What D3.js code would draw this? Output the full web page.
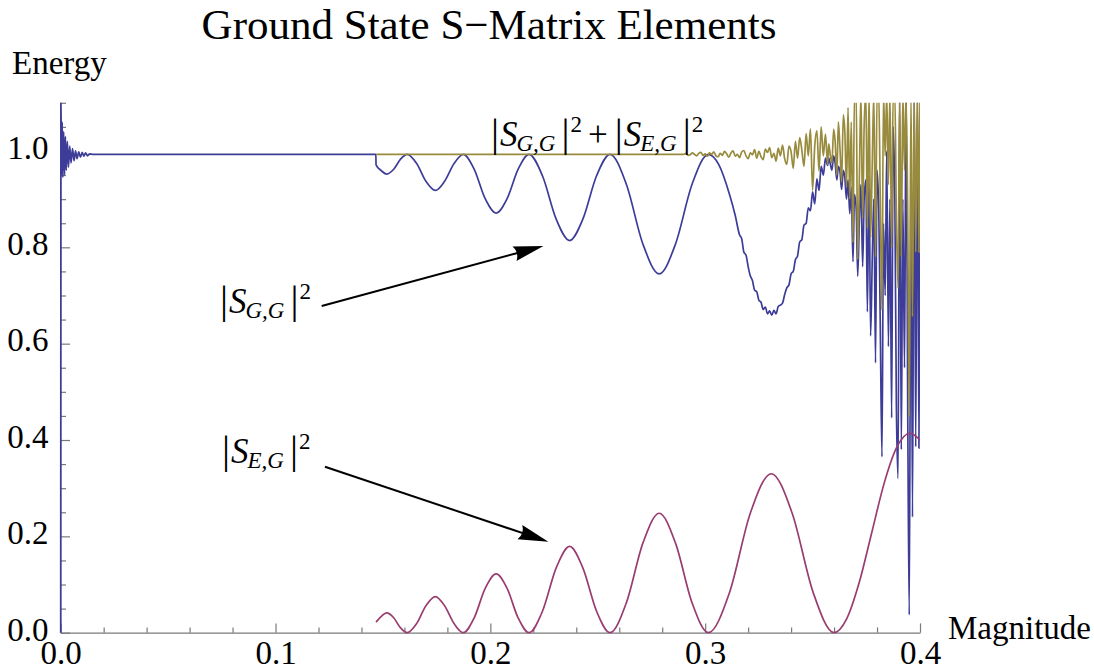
<!DOCTYPE html>
<html><head><meta charset="utf-8">
<script src="https://cdn.jsdelivr.net/npm/d3@7/dist/d3.min.js"></script>
<style>body{margin:0;background:#fff}svg{display:block}</style>
</head><body>
<svg id="chart" width="1094" height="671"></svg>
<script>
// ---------- data ----------
const chartTitle = "Ground State S\u2212Matrix Elements";
const xAxisLabel = "Magnitude";
const yAxisLabel = "Energy";
const xMajorTicks = [0, 0.1, 0.2, 0.3, 0.4];
const xTickLabels = ["0.0", "0.1", "0.2", "0.3", "0.4"];
const xMinorTicks = [0.02,0.04,0.06,0.08,0.12,0.14,0.16,0.18,0.22,0.24,0.26,0.28,0.32,0.34,0.36,0.38];
const yMajorTicks = [0, 0.2, 0.4, 0.6, 0.8, 1.0];
const yTickLabels = ["0.0", "0.2", "0.4", "0.6", "0.8", "1.0"];
const yMinorTicks = [0.05,0.1,0.15,0.25,0.3,0.35,0.45,0.5,0.55,0.65,0.7,0.75,0.85,0.9,0.95,1.05,1.1];

// |S_GG|^2  (blue)
const sggData = [
 [0,0],[0.0001,1.12],[0.0004,0.95],[0.0007,1.06],[0.0010,0.945],[0.0014,1.04],[0.0018,0.95],
 [0.0022,1.03],[0.0026,0.96],[0.0031,1.02],[0.0036,0.966],[0.0042,1.01],[0.0048,0.975],
 [0.0055,1.005],[0.0062,0.980],[0.0069,1.000],[0.0076,0.984],[0.0084,0.998],[0.0092,0.987],
 [0.0100,0.997],[0.0108,0.989],[0.0116,0.996],[0.0125,0.990],[0.0135,0.994],[0.0150,0.993],
 [0.1467,0.993],[0.1468,0.971],[0.1490,0.960],[0.1518,0.952],[0.1550,0.962],[0.1582,0.983],
 [0.1613,0.993],[0.1657,0.974],[0.1700,0.937],[0.1744,0.918],[0.1787,0.937],[0.1831,0.974],
 [0.1874,0.993],[0.1925,0.962],[0.1976,0.901],[0.2027,0.871],[0.2078,0.901],[0.2129,0.962],
 [0.2180,0.993],[0.2243,0.948],[0.2306,0.859],[0.2369,0.814],[0.2431,0.859],[0.2494,0.948],
 [0.2557,0.993],[0.2633,0.931],[0.2710,0.807],[0.2786,0.745],[0.2862,0.807],[0.2939,0.931],
 [0.3015,0.993],[0.3064,0.971],[0.3113,0.910],[0.3140,0.866],
 [0.316,0.826],[0.317,0.818],[0.318,0.790],[0.319,0.784],[0.320,0.760],[0.321,0.741],
 [0.322,0.731],[0.323,0.711],[0.324,0.708],[0.325,0.690],[0.326,0.686],[0.327,0.671],
 [0.328,0.676],[0.329,0.662],[0.330,0.668],[0.331,0.659],[0.332,0.669],[0.333,0.662],
 [0.334,0.677],[0.335,0.680],[0.336,0.684],[0.337,0.702],[0.338,0.716],[0.339,0.722],
 [0.340,0.745],[0.341,0.750],[0.342,0.774],[0.343,0.782],[0.344,0.811],[0.345,0.816],
 [0.346,0.846],[0.347,0.850],[0.348,0.882],[0.349,0.876],[0.350,0.915],[0.351,0.890],
 [0.352,0.942],[0.353,0.918],[0.354,0.968],[0.355,0.950],[0.356,0.985],[0.357,0.970],
 [0.3575,0.985],[0.3583,0.972],[0.3590,0.960],[0.3598,0.990],[0.3605,0.975],[0.3613,0.940],
 [0.3620,0.968],[0.3628,0.955],[0.3635,0.920],[0.3643,0.960],[0.3650,0.945],[0.3658,0.900],
 [0.3665,0.940],[0.3673,0.870],[0.3680,0.925],[0.3688,0.770],[0.3695,0.910],[0.3703,0.880],
 [0.3710,0.740],[0.3718,0.860],[0.3725,0.930],[0.3733,0.760],[0.3740,0.900],[0.3748,0.940],
 [0.3755,0.666],[0.3763,0.950],[0.3770,0.616],[0.3778,0.780],[0.3785,0.900],[0.3793,0.560],
 [0.3800,0.960],[0.3808,0.880],[0.3815,0.640],[0.3823,0.365],[0.3830,0.850],[0.3838,0.700],
 [0.3845,1.000],[0.3853,0.594],[0.3860,0.900],[0.3868,0.446],[0.3875,1.050],[0.3883,0.900],
 [0.3890,0.473],[0.3898,0.320],[0.3905,1.120],[0.3913,0.380],[0.3920,0.900],[0.3928,0.550],
 [0.3935,1.120],[0.3943,0.450],[0.3950,0.037],[0.3958,0.980],[0.3965,0.240],[0.3973,1.120],
 [0.3980,0.386],[0.3988,1.120],[0.3995,0.383],[0.4000,0.950]
];

// |S_EG|^2  (magenta)
const segData = [
 [0.1468,0.022],[0.1490,0.033],[0.1518,0.041],[0.1550,0.031],[0.1582,0.010],[0.1613,0.000],
 [0.1657,0.019],[0.1700,0.056],[0.1744,0.075],[0.1787,0.056],[0.1831,0.019],[0.1874,0.000],
 [0.1925,0.031],[0.1976,0.092],[0.2027,0.122],[0.2078,0.092],[0.2129,0.031],[0.2180,0.000],
 [0.2243,0.045],[0.2306,0.134],[0.2369,0.179],[0.2431,0.134],[0.2494,0.045],[0.2557,0.000],
 [0.2633,0.062],[0.2710,0.186],[0.2786,0.248],[0.2862,0.186],[0.2939,0.062],[0.3015,0.000],
 [0.3113,0.083],[0.3210,0.248],[0.3308,0.330],[0.3405,0.248],[0.3503,0.083],[0.3600,0.000],
 [0.3658,0.028],[0.3717,0.104],[0.3775,0.207],[0.3833,0.310],[0.3892,0.385],[0.3953,0.414],
 [0.3975,0.410],[0.4000,0.400]
];

// |S_GG|^2 + |S_EG|^2  (olive)
const sumData = [
 [0.1468,0.993],[0.2900,0.993],
 [0.291,0.995],[0.292,0.991],[0.293,0.992],[0.294,0.996],[0.295,0.993],[0.296,0.990],
 [0.297,0.995],[0.298,0.997],[0.299,0.991],[0.300,0.994],[0.301,0.989],[0.302,0.996],
 [0.303,0.993],[0.304,0.998],[0.305,0.990],[0.306,0.988],[0.307,0.995],[0.308,0.991],
 [0.309,0.999],[0.310,0.994],[0.311,0.987],[0.312,0.996],[0.313,1.000],[0.314,0.989],
 [0.315,0.993],[0.316,0.986],[0.317,0.998],[0.318,1.001],[0.319,0.990],[0.320,0.984],
 [0.321,0.996],[0.322,0.992],[0.323,1.003],[0.324,0.985],[0.325,0.999],[0.326,0.988],
 [0.327,0.982],[0.328,1.004],[0.329,0.997],[0.330,1.007],[0.331,0.986],[0.332,0.995],
 [0.333,0.979],[0.334,1.006],[0.335,0.990],[0.336,1.012],[0.337,0.984],[0.338,0.972],
 [0.339,1.010],[0.340,0.998],[0.341,0.964],[0.342,1.020],[0.343,0.985],[0.344,1.028],
 [0.345,1.002],[0.346,0.968],[0.347,1.036],[0.348,0.990],[0.349,1.046],[0.350,0.919],
 [0.351,1.010],[0.352,1.042],[0.353,0.958],[0.354,1.050],[0.355,0.990],[0.356,1.035],
 [0.357,0.972],
 [0.3575,1.015],[0.3583,0.990],[0.3590,0.975],[0.3598,1.045],[0.3605,1.020],[0.3613,0.950],
 [0.3620,1.060],[0.3628,1.000],[0.3635,0.935],[0.3643,1.075],[0.3650,1.040],[0.3658,0.925],
 [0.3665,1.090],[0.3673,0.900],[0.3680,1.060],[0.3688,0.810],[0.3695,1.120],[0.3703,1.120],
 [0.3710,0.775],[0.3718,0.950],[0.3725,1.120],[0.3733,0.860],[0.3740,1.050],[0.3748,1.120],
 [0.3755,0.840],[0.3763,1.120],[0.3770,0.820],[0.3778,0.980],[0.3785,1.120],[0.3793,0.780],
 [0.3800,1.120],[0.3808,1.120],[0.3815,0.900],[0.3823,0.670],[0.3830,1.120],[0.3838,0.990],
 [0.3845,1.120],[0.3853,0.930],[0.3860,1.120],[0.3868,0.800],[0.3875,1.120],[0.3883,1.120],
 [0.3890,0.860],[0.3898,0.715],[0.3905,1.120],[0.3913,0.780],[0.3920,1.120],[0.3928,0.960],
 [0.3935,1.120],[0.3943,0.860],[0.3950,0.448],[0.3958,1.120],[0.3965,0.656],[0.3973,1.120],
 [0.3980,0.790],[0.3988,1.120],[0.3995,0.790],[0.4000,1.120]
];

// annotations (data coordinates)
const labelSGG = {x: 0.0741, y: 0.6637, sub: "G,G"};
const labelSEG = {x: 0.0751, y: 0.3517, sub: "E,G"};
const labelSum = {x: 0.2003, y: 1.0104};
const arrowSGG = {from: [0.1215, 0.6782], to: [0.2247, 0.8028]};
const arrowSEG = {from: [0.1230, 0.3446], to: [0.2270, 0.1889]};

// ---------- drawing ----------
const FONT = "'Liberation Serif', 'Times New Roman', Times, serif";
const colors = {sgg: "#3d3d99", seg: "#993d71", sum: "#998b3d", axis: "#7a7a7a"};
const svg = d3.select("#chart");
const x = d3.scaleLinear().domain([0, 0.4]).range([60.7, 920]);
const y = d3.scaleLinear().domain([0, 1.1]).range([632.7, 102.8]);

// title and axis labels
svg.append("text").attr("x", 489).attr("y", 39).attr("text-anchor", "middle")
  .style("font-family", FONT).style("font-size", "43px").attr("fill", "#000").text(chartTitle);
svg.append("text").attr("x", 12).attr("y", 74)
  .style("font-family", FONT).style("font-size", "33px").attr("fill", "#000").text(yAxisLabel);
svg.append("text").attr("x", 948).attr("y", 638.5)
  .style("font-family", FONT).style("font-size", "33px").attr("fill", "#000").text(xAxisLabel);

// axes
function styleAxis(g) {
  g.selectAll("path.domain").attr("stroke", colors.axis).attr("stroke-width", 1.2);
  g.selectAll(".tick line").attr("stroke", colors.axis).attr("stroke-width", 1.2);
  g.selectAll(".tick text").attr("fill", "#000")
    .style("font-family", FONT).style("font-size", "33px");
}
const gxMinor = svg.append("g").attr("transform", `translate(0,${y(0)})`)
  .call(d3.axisBottom(x).tickValues(xMinorTicks).tickSizeInner(-5.3).tickSizeOuter(0).tickFormat(""));
gxMinor.select("path.domain").remove(); styleAxis(gxMinor);
gxMinor.selectAll(".tick text").remove();
const gyMinor = svg.append("g").attr("transform", `translate(${x(0)},0)`)
  .call(d3.axisLeft(y).tickValues(yMinorTicks).tickSizeInner(-5.3).tickSizeOuter(0).tickFormat(""));
gyMinor.select("path.domain").remove(); styleAxis(gyMinor);
gyMinor.selectAll(".tick text").remove();

const gx = svg.append("g").attr("transform", `translate(0,${y(0)})`)
  .call(d3.axisBottom(x).tickValues(xMajorTicks).tickSizeInner(-9.3).tickSizeOuter(0)
    .tickFormat((d, i) => xTickLabels[i]));
styleAxis(gx);
gx.selectAll(".tick text").attr("y", 31).attr("dy", 0);
const gy = svg.append("g").attr("transform", `translate(${x(0)},0)`)
  .call(d3.axisLeft(y).tickValues(yMajorTicks).tickSizeInner(-9.3).tickSizeOuter(0)
    .tickFormat((d, i) => yTickLabels[i]));
gy.select("path.domain").attr("d", `M0,${y(0)}V${y(1.1)}`);
styleAxis(gy);
gy.selectAll(".tick text").attr("x", -12.2).attr("y", 7.3).attr("dy", 0);

// clip
svg.append("clipPath").attr("id", "plotclip").append("rect")
  .attr("x", x(0) - 2).attr("y", y(1.1)).attr("width", x(0.4) - x(0) + 2).attr("height", y(0) - y(1.1) + 2);

const line = d3.line().x(d => x(d[0])).y(d => y(d[1])).curve(d3.curveMonotoneX);
const plot = svg.append("g").attr("clip-path", "url(#plotclip)");
[[sggData, colors.sgg], [segData, colors.seg], [sumData, colors.sum]].forEach(([data, c]) => {
  plot.append("path").datum(data).attr("d", line).attr("fill", "none")
    .attr("stroke", c).attr("stroke-width", 1.7).attr("stroke-linejoin", "round");
});

// annotation labels: |S_sub|^2 built from tspans
function absLabel(t, sub, firstDx, firstDy) {
  t.append("tspan").style("font-size", "40px").attr("dx", firstDx || 0).attr("dy", firstDy || 0).text("|");
  t.append("tspan").style("font-size", "35px").style("font-style", "italic").attr("dx", 1).text("S");
  t.append("tspan").style("font-size", "23px").style("font-style", "italic").attr("dx", -1).attr("dy", 5).text(sub);
  t.append("tspan").style("font-size", "40px").attr("dx", 6).attr("dy", -5).text("|");
  t.append("tspan").style("font-size", "23px").attr("dx", 1).attr("dy", -14).text("2");
}
function addLabel(pos) {
  return svg.append("text").attr("x", x(pos.x)).attr("y", y(pos.y))
    .style("font-family", FONT).attr("fill", "#000");
}
absLabel(addLabel(labelSGG), labelSGG.sub);
absLabel(addLabel(labelSEG), labelSEG.sub);
const tSum = addLabel(labelSum);
absLabel(tSum, "G,G");
tSum.append("tspan").style("font-size", "35px").attr("dx", 6).attr("dy", 14).text("+");
absLabel(tSum, "E,G", 7, 0);

// arrows
function arrow(a) {
  const x1 = x(a.from[0]), y1 = y(a.from[1]), x2 = x(a.to[0]), y2 = y(a.to[1]);
  const ang = Math.atan2(y2 - y1, x2 - x1);
  const L = 30, W = 7.5, N = 25;
  const ex = x2 - Math.cos(ang) * 20, ey = y2 - Math.sin(ang) * 20;
  svg.append("line").attr("x1", x1).attr("y1", y1).attr("x2", ex).attr("y2", ey)
    .attr("stroke", "#000").attr("stroke-width", 2);
  const head = `M0,0 L${-L},${-W} Q${-N},0 ${-L},${W} Z`;
  svg.append("path").attr("d", head).attr("fill", "#000")
    .attr("transform", `translate(${x2},${y2}) rotate(${ang * 180 / Math.PI})`);
}
arrow(arrowSGG);
arrow(arrowSEG);
</script>
</body></html>
